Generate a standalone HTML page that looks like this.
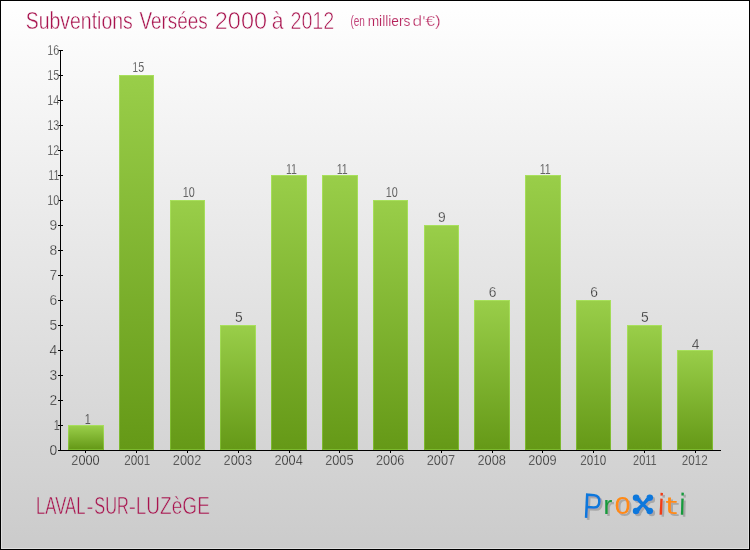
<!DOCTYPE html>
<html lang="fr"><head><meta charset="utf-8"><title>Subventions Versées 2000 à 2012 - LAVAL-SUR-LUZèGE</title>
<style>html,body{margin:0;padding:0;background:#fff}body{width:750px;height:550px;overflow:hidden}svg{display:block}text{font-family:"Liberation Sans",sans-serif}.g{fill:#262626;font-size:13.8px;stroke-width:0.3px}</style></head><body>
<svg width="750" height="550" viewBox="0 0 750 550">
<defs><linearGradient id="bg" x1="0" y1="0" x2="0" y2="1"><stop offset="0" stop-color="#ffffff"/><stop offset="1" stop-color="#cbcbcb"/></linearGradient><linearGradient id="bar" x1="0" y1="0" x2="0" y2="1"><stop offset="0" stop-color="#99ce49"/><stop offset="1" stop-color="#659917"/></linearGradient><linearGradient id="barb" x1="0" y1="0" x2="0" y2="1"><stop offset="0" stop-color="#a8e05c"/><stop offset="1" stop-color="#7cb82e"/></linearGradient><filter id="sh" x="-10%" y="-20%" width="120%" height="150%"><feGaussianBlur in="SourceAlpha" stdDeviation="0.7" result="b"/><feOffset in="b" dx="1.6" dy="1.6" result="o"/><feFlood flood-color="#9a9a9a" flood-opacity="0.75"/><feComposite in2="o" operator="in" result="s"/><feMerge><feMergeNode in="s"/><feMergeNode in="SourceGraphic"/></feMerge></filter></defs>
<rect x="0" y="0" width="750" height="550" fill="#000"/>
<rect x="1" y="1" width="748" height="548" fill="url(#bg)"/>
<rect x="1.5" y="1.5" width="747" height="547" fill="none" stroke="#fff" stroke-opacity="0.38" shape-rendering="crispEdges"/>
<text y="28.9" font-size="24.8" fill="#a8134e" stroke="#fdfdfd"><tspan x="25.82" fill="#a8134e" stroke-width="0.45" textLength="106.88" lengthAdjust="spacingAndGlyphs">Subventions</tspan> <tspan x="139.52" fill="#a8134e" stroke-width="0.45" textLength="68.25" lengthAdjust="spacingAndGlyphs">Versées</tspan> <tspan x="214.82" fill="#a8134e" stroke-width="0.65" textLength="52.20" lengthAdjust="spacingAndGlyphs">2000</tspan> <tspan x="271.80" fill="#a8134e" stroke-width="0.55" textLength="11.80" lengthAdjust="spacingAndGlyphs">à</tspan> <tspan x="290.41" fill="#a8134e" stroke-width="0.65" textLength="43.88" lengthAdjust="spacingAndGlyphs">2012</tspan></text>
<text y="25.5" font-size="14.5" fill="#b5205a" stroke="#fdfdfd"><tspan x="350.38" fill="#c2457a" stroke-width="0.0" textLength="14.47" lengthAdjust="spacingAndGlyphs">(en</tspan> <tspan x="367.69" fill="#b5205a" stroke-width="0.2" textLength="42.71" lengthAdjust="spacingAndGlyphs">milliers</tspan> <tspan x="412.58" fill="#b5205a" stroke-width="0.3" textLength="28.19" lengthAdjust="spacingAndGlyphs">d'€)</tspan></text>
<rect x="68" y="425" width="36" height="25" fill="url(#barb)"/>
<rect x="69" y="426" width="34" height="23" fill="url(#bar)"/>
<text class="g" stroke="#d8d8d8" x="87.70" y="424" text-anchor="middle" textLength="6.0" lengthAdjust="spacingAndGlyphs">1</text>
<rect x="119" y="75" width="35" height="375" fill="url(#barb)"/>
<rect x="120" y="76" width="33" height="373" fill="url(#bar)"/>
<text class="g" stroke="#f9f9f9" x="138.28" y="72" text-anchor="middle" textLength="12.0" lengthAdjust="spacingAndGlyphs">15</text>
<rect x="170" y="200" width="35" height="250" fill="url(#barb)"/>
<rect x="171" y="201" width="33" height="248" fill="url(#bar)"/>
<text class="g" stroke="#ededed" x="188.65" y="197" text-anchor="middle" textLength="12.0" lengthAdjust="spacingAndGlyphs">10</text>
<rect x="220" y="325" width="36" height="125" fill="url(#barb)"/>
<rect x="221" y="326" width="34" height="123" fill="url(#bar)"/>
<text class="g" stroke="#e1e1e1" x="238.72" y="322" text-anchor="middle">5</text>
<rect x="271" y="175" width="36" height="275" fill="url(#barb)"/>
<rect x="272" y="176" width="34" height="273" fill="url(#bar)"/>
<text class="g" stroke="#efefef" x="291.40" y="174" text-anchor="middle" textLength="11.0" lengthAdjust="spacingAndGlyphs">11</text>
<rect x="322" y="175" width="36" height="275" fill="url(#barb)"/>
<rect x="323" y="176" width="34" height="273" fill="url(#bar)"/>
<text class="g" stroke="#efefef" x="342.18" y="174" text-anchor="middle" textLength="11.0" lengthAdjust="spacingAndGlyphs">11</text>
<rect x="373" y="200" width="35" height="250" fill="url(#barb)"/>
<rect x="374" y="201" width="33" height="248" fill="url(#bar)"/>
<text class="g" stroke="#ededed" x="391.75" y="197" text-anchor="middle" textLength="12.0" lengthAdjust="spacingAndGlyphs">10</text>
<rect x="424" y="225" width="35" height="225" fill="url(#barb)"/>
<rect x="425" y="226" width="33" height="223" fill="url(#bar)"/>
<text class="g" stroke="#eaeaea" x="441.82" y="222" text-anchor="middle">9</text>
<rect x="474" y="300" width="36" height="150" fill="url(#barb)"/>
<rect x="475" y="301" width="34" height="148" fill="url(#bar)"/>
<text class="g" stroke="#e3e3e3" x="492.60" y="297" text-anchor="middle">6</text>
<rect x="525" y="175" width="36" height="275" fill="url(#barb)"/>
<rect x="526" y="176" width="34" height="273" fill="url(#bar)"/>
<text class="g" stroke="#efefef" x="545.27" y="174" text-anchor="middle" textLength="11.0" lengthAdjust="spacingAndGlyphs">11</text>
<rect x="576" y="300" width="35" height="150" fill="url(#barb)"/>
<rect x="577" y="301" width="33" height="148" fill="url(#bar)"/>
<text class="g" stroke="#e3e3e3" x="594.15" y="297" text-anchor="middle">6</text>
<rect x="627" y="325" width="35" height="125" fill="url(#barb)"/>
<rect x="628" y="326" width="33" height="123" fill="url(#bar)"/>
<text class="g" stroke="#e1e1e1" x="644.92" y="322" text-anchor="middle">5</text>
<rect x="677" y="350" width="36" height="100" fill="url(#barb)"/>
<rect x="678" y="351" width="34" height="98" fill="url(#bar)"/>
<text class="g" stroke="#dfdfdf" x="695.70" y="349" text-anchor="middle">4</text>
<g stroke="#000" stroke-width="1" shape-rendering="crispEdges">
<line x1="60.5" y1="50" x2="60.5" y2="451"/>
<line x1="58" y1="450.5" x2="721" y2="450.5"/>
<line x1="58" y1="425.5" x2="63" y2="425.5"/>
<line x1="58" y1="400.5" x2="63" y2="400.5"/>
<line x1="58" y1="375.5" x2="63" y2="375.5"/>
<line x1="58" y1="350.5" x2="63" y2="350.5"/>
<line x1="58" y1="325.5" x2="63" y2="325.5"/>
<line x1="58" y1="300.5" x2="63" y2="300.5"/>
<line x1="58" y1="275.5" x2="63" y2="275.5"/>
<line x1="58" y1="250.5" x2="63" y2="250.5"/>
<line x1="58" y1="225.5" x2="63" y2="225.5"/>
<line x1="58" y1="200.5" x2="63" y2="200.5"/>
<line x1="58" y1="175.5" x2="63" y2="175.5"/>
<line x1="58" y1="150.5" x2="63" y2="150.5"/>
<line x1="58" y1="125.5" x2="63" y2="125.5"/>
<line x1="58" y1="100.5" x2="63" y2="100.5"/>
<line x1="58" y1="75.5" x2="63" y2="75.5"/>
<line x1="58" y1="50.5" x2="63" y2="50.5"/>
<line x1="85.5" y1="451" x2="85.5" y2="453"/>
<line x1="136.5" y1="451" x2="136.5" y2="453"/>
<line x1="187.5" y1="451" x2="187.5" y2="453"/>
<line x1="238.5" y1="451" x2="238.5" y2="453"/>
<line x1="289.5" y1="451" x2="289.5" y2="453"/>
<line x1="339.5" y1="451" x2="339.5" y2="453"/>
<line x1="390.5" y1="451" x2="390.5" y2="453"/>
<line x1="441.5" y1="451" x2="441.5" y2="453"/>
<line x1="492.5" y1="451" x2="492.5" y2="453"/>
<line x1="542.5" y1="451" x2="542.5" y2="453"/>
<line x1="593.5" y1="451" x2="593.5" y2="453"/>
<line x1="644.5" y1="451" x2="644.5" y2="453"/>
<line x1="695.5" y1="451" x2="695.5" y2="453"/>
</g>
<text class="g" stroke="#d4d4d4" x="57.2" y="455.4" text-anchor="end">0</text>
<text class="g" stroke="#d7d7d7" x="59.8" y="430.4" text-anchor="end" textLength="6.0" lengthAdjust="spacingAndGlyphs">1</text>
<text class="g" stroke="#d9d9d9" x="57.2" y="405.4" text-anchor="end">2</text>
<text class="g" stroke="#dbdbdb" x="57.2" y="380.4" text-anchor="end">3</text>
<text class="g" stroke="#dedede" x="57.2" y="355.4" text-anchor="end">4</text>
<text class="g" stroke="#e0e0e0" x="57.2" y="330.4" text-anchor="end">5</text>
<text class="g" stroke="#e3e3e3" x="57.2" y="305.4" text-anchor="end">6</text>
<text class="g" stroke="#e5e5e5" x="57.2" y="280.4" text-anchor="end">7</text>
<text class="g" stroke="#e7e7e7" x="57.2" y="255.4" text-anchor="end">8</text>
<text class="g" stroke="#eaeaea" x="57.2" y="230.4" text-anchor="end">9</text>
<text class="g" stroke="#ececec" x="59.3" y="205.4" text-anchor="end" textLength="12.0" lengthAdjust="spacingAndGlyphs">10</text>
<text class="g" stroke="#eeeeee" x="59.3" y="180.4" text-anchor="end" textLength="11.0" lengthAdjust="spacingAndGlyphs">11</text>
<text class="g" stroke="#f1f1f1" x="59.3" y="155.4" text-anchor="end" textLength="12.0" lengthAdjust="spacingAndGlyphs">12</text>
<text class="g" stroke="#f3f3f3" x="59.3" y="130.4" text-anchor="end" textLength="12.0" lengthAdjust="spacingAndGlyphs">13</text>
<text class="g" stroke="#f5f5f5" x="59.3" y="105.4" text-anchor="end" textLength="12.0" lengthAdjust="spacingAndGlyphs">14</text>
<text class="g" stroke="#f8f8f8" x="59.3" y="80.4" text-anchor="end" textLength="12.0" lengthAdjust="spacingAndGlyphs">15</text>
<text class="g" stroke="#fafafa" x="59.3" y="55.4" text-anchor="end" textLength="12.0" lengthAdjust="spacingAndGlyphs">16</text>
<text class="g" stroke="#d4d4d4" x="85.50" y="465.2" text-anchor="middle" textLength="28.4" lengthAdjust="spacingAndGlyphs">2000</text>
<text class="g" stroke="#d4d4d4" x="137.18" y="465.2" text-anchor="middle" textLength="26.0" lengthAdjust="spacingAndGlyphs">2001</text>
<text class="g" stroke="#d4d4d4" x="187.05" y="465.2" text-anchor="middle" textLength="28.4" lengthAdjust="spacingAndGlyphs">2002</text>
<text class="g" stroke="#d4d4d4" x="237.82" y="465.2" text-anchor="middle" textLength="28.4" lengthAdjust="spacingAndGlyphs">2003</text>
<text class="g" stroke="#d4d4d4" x="288.60" y="465.2" text-anchor="middle" textLength="28.4" lengthAdjust="spacingAndGlyphs">2004</text>
<text class="g" stroke="#d4d4d4" x="339.38" y="465.2" text-anchor="middle" textLength="28.4" lengthAdjust="spacingAndGlyphs">2005</text>
<text class="g" stroke="#d4d4d4" x="390.15" y="465.2" text-anchor="middle" textLength="28.4" lengthAdjust="spacingAndGlyphs">2006</text>
<text class="g" stroke="#d4d4d4" x="440.93" y="465.2" text-anchor="middle" textLength="28.4" lengthAdjust="spacingAndGlyphs">2007</text>
<text class="g" stroke="#d4d4d4" x="491.70" y="465.2" text-anchor="middle" textLength="28.4" lengthAdjust="spacingAndGlyphs">2008</text>
<text class="g" stroke="#d4d4d4" x="542.47" y="465.2" text-anchor="middle" textLength="28.4" lengthAdjust="spacingAndGlyphs">2009</text>
<text class="g" stroke="#d4d4d4" x="593.25" y="465.2" text-anchor="middle" textLength="26.0" lengthAdjust="spacingAndGlyphs">2010</text>
<text class="g" stroke="#d4d4d4" x="644.92" y="465.2" text-anchor="middle" textLength="23.6" lengthAdjust="spacingAndGlyphs">2011</text>
<text class="g" stroke="#d4d4d4" x="694.80" y="465.2" text-anchor="middle" textLength="26.0" lengthAdjust="spacingAndGlyphs">2012</text>
<text y="513.8" font-size="24.2" fill="#a8134e" stroke="#cfcfcf"><tspan x="36.00" fill="#a8134e" stroke-width="0.5" textLength="49.43" lengthAdjust="spacingAndGlyphs">LAVAL</tspan><tspan x="86.14" fill="#a8134e" stroke-width="0.6" textLength="7.23" lengthAdjust="spacingAndGlyphs">-</tspan><tspan x="94.36" fill="#a8134e" stroke-width="0.5" textLength="34.40" lengthAdjust="spacingAndGlyphs">SUR</tspan><tspan x="128.64" fill="#a8134e" stroke-width="0.6" textLength="7.23" lengthAdjust="spacingAndGlyphs">-</tspan><tspan x="135.74" fill="#a8134e" stroke-width="0.6" textLength="74.18" lengthAdjust="spacingAndGlyphs">LUZèGE</tspan></text>
<g filter="url(#sh)" stroke-linejoin="round" stroke-linecap="round"><text><tspan x="582.6" y="517.6" font-size="35.5" rotate="3.5" fill="#0f78dc" stroke="#0f78dc" stroke-width="0.0" textLength="18.94" lengthAdjust="spacingAndGlyphs">P</tspan><tspan x="603.6" y="513.5" font-size="26.5" fill="#159a3c" stroke="#159a3c" stroke-width="0.2" textLength="8.82" lengthAdjust="spacingAndGlyphs">r</tspan><tspan x="614.4" y="514.0" font-size="31" fill="#ff8a14" stroke="#ff8a14" stroke-width="0.0" textLength="16.21" lengthAdjust="spacingAndGlyphs">o</tspan><tspan x="636.95" y="510.6" font-size="24" fill="#0f78dc" stroke="#0f78dc" stroke-width="0.0" textLength="12.00" lengthAdjust="spacingAndGlyphs">x</tspan><tspan x="658.0" y="514.4" font-size="30" rotate="3" fill="#f03c14" stroke="#f03c14" stroke-width="0.2" textLength="5.67" lengthAdjust="spacingAndGlyphs">i</tspan><tspan x="665.2" y="514.0" font-size="23" style="font-family:'DejaVu Sans',sans-serif" fill="#ff8a14" stroke="#ff8a14" stroke-width="0.0" textLength="12.17" lengthAdjust="spacingAndGlyphs">t</tspan><tspan x="679.3" y="514.5" font-size="30" rotate="2" fill="#159a3c" stroke="#159a3c" stroke-width="0.2" textLength="5.67" lengthAdjust="spacingAndGlyphs">i</tspan></text><circle cx="636.1" cy="497.8" r="3.3" fill="#0f78dc"/><circle cx="649.8" cy="497.8" r="3.3" fill="#0f78dc"/><circle cx="636.1" cy="511" r="3.3" fill="#0f78dc"/><circle cx="649.8" cy="511" r="3.3" fill="#0f78dc"/><path d="M636.1 497.8L649.8 511M649.8 497.8L636.1 511" stroke="#0f78dc" stroke-width="3.3" fill="none"/></g>
</svg></body></html>
